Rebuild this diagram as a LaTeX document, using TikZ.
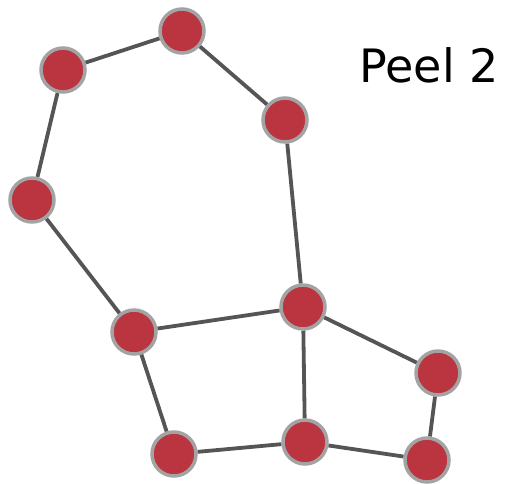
\documentclass[tikz,border=0pt]{standalone}
\usepackage{fontspec}
\setmainfont{DejaVu Sans}
\definecolor{nodefill}{HTML}{BA3540}
\definecolor{nodeborder}{HTML}{A3A3A3}
\definecolor{edgecol}{HTML}{555555}
\begin{document}
\begin{tikzpicture}[x=1pt,y=-1pt,
  vert/.style={circle,fill=nodefill,draw=nodeborder,line width=3.5pt,minimum size=44pt,inner sep=0pt},
  edge/.style={draw=edgecol,line width=3.8pt}]
\useasboundingbox (0,0) rectangle (505,483);
\node[vert] (n1) at (182,31) {};
\node[vert] (n2) at (63,70) {};
\node[vert] (n3) at (285,120) {};
\node[vert] (n4) at (32,200) {};
\node[vert] (n5) at (303,307) {};
\node[vert] (n6) at (134,332) {};
\node[vert] (n7) at (438,373) {};
\node[vert] (n8) at (174,454) {};
\node[vert] (n9) at (305,442) {};
\node[vert] (n10) at (427,460) {};
\node[anchor=base,font=\fontsize{46}{46}\selectfont] (t) at (429,82) {Peel 2};
\draw[edge] (n2) -- (n1);
\draw[edge] (n1) -- (n3);
\draw[edge] (n2) -- (n4);
\draw[edge] (n4) -- (n6);
\draw[edge] (n3) -- (n5);
\draw[edge] (n6) -- (n5);
\draw[edge] (n6) -- (n8);
\draw[edge] (n5) -- (n9);
\draw[edge] (n5) -- (n7);
\draw[edge] (n8) -- (n9);
\draw[edge] (n9) -- (n10);
\draw[edge] (n10) -- (n7);
\end{tikzpicture}
\end{document}
